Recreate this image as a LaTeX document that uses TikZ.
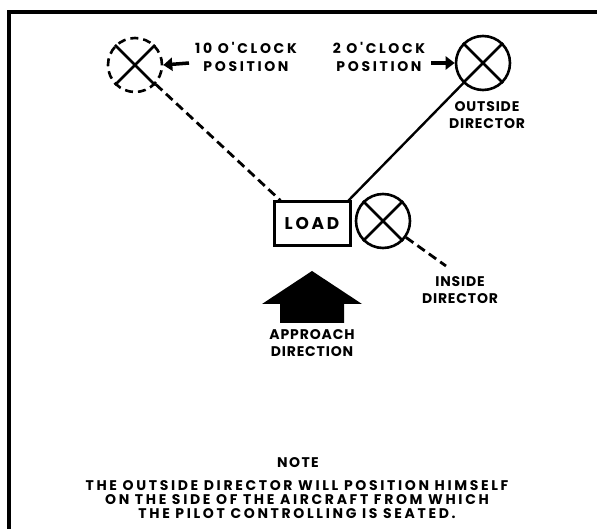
\documentclass[tikz,border=0pt]{standalone}
\usepackage{fontspec}
\setmainfont{Poppins}
\newfontfamily\lblfam{Poppins}[LetterSpace=6]
\newfontfamily\clkfam{Poppins}[LetterSpace=19]
\newfontfamily\notefam{Poppins}[LetterSpace=19]
\newfontfamily\loadfam{Poppins}[LetterSpace=16]
\newfontfamily\headfam{Poppins}[LetterSpace=10]
\usetikzlibrary{arrows.meta}
\tikzset{
  lbl/.style={font=\lblfam\bfseries\fontsize{14}{17.5}\selectfont, align=center, inner sep=0pt},
  clklbl/.style={font=\clkfam\bfseries\fontsize{14}{18}\selectfont, align=center, inner sep=0pt},
  notetxt/.style={font=\notefam\bfseries\fontsize{14}{14}\selectfont, align=center, inner sep=0pt},
  person/.style={circle, draw, line width=2.6pt, minimum size=54pt, inner sep=0pt},
  crossln/.style={line width=2.6pt},
  dashln/.style={line width=2.8pt, dash pattern=on 9pt off 5pt},
  solidln/.style={line width=2.4pt},
  pointer/.style={line width=3.5pt, -{Triangle[length=9pt,width=13pt]}},
}
\begin{document}
\begin{tikzpicture}[x=1pt,y=-1pt]
\useasboundingbox (0,0) rectangle (597,529);
% frame
\draw[line width=4pt] (9,540) -- (9,12) -- (610,12);
% directors
\node[person, dash pattern=on 8pt off 5pt] (c10) at (135,65) {};
\draw[crossln] (c10.north west) -- (c10.south east) (c10.north east) -- (c10.south west);
\node[person] (cout) at (483,63) {};
\draw[crossln] (cout.north west) -- (cout.south east) (cout.north east) -- (cout.south west);
\node[person] (cin) at (383,221) {};
\draw[crossln] (cin.north west) -- (cin.south east) (cin.north east) -- (cin.south west);
% load
\node[draw, line width=3pt, minimum width=76pt, minimum height=44pt, inner sep=0pt,
  font=\loadfam\bfseries\fontsize{17}{18}\selectfont] (load) at (312,224) {LOAD};
% connectors
\draw[dashln] (c10) -- ([xshift=8pt]load.north west);
\draw[solidln] (cout) -- ([xshift=-3pt]load.north east);
\coordinate (inend) at (446,266);
\draw[dashln] (cin) -- (inend);
% labels
\node[clklbl] (lbl10) at (246,57) {10 O'CLOCK\\POSITION};
\node[clklbl] (lbl2) at (379,57) {2 O'CLOCK\\POSITION};
\node[lbl] (lblout) at (487,115) {OUTSIDE\\DIRECTOR};
\node[lbl] (lblin) at (460,290) {INSIDE\\DIRECTOR};
\node[lbl] (appr) at (312,343) {APPROACH\\DIRECTION};
% pointers
\coordinate (p10) at (189,63);
\draw[pointer] (p10) -- (c10.east);
\coordinate (p2) at (431,63);
\draw[pointer] (p2) -- (cout.west);
% big approach arrow
\fill (312,271) -- (362,304) -- (344,304) -- (344,323) -- (280,323) -- (280,304) -- (262,304) -- cycle;
% note
\node[font=\headfam\bfseries\fontsize{14}{14}\selectfont, inner sep=0pt] (notehead) at (298,463) {NOTE};
\node[notetxt] (note) at (297,500) {THE OUTSIDE DIRECTOR WILL POSITION HIMSELF\\ON THE SIDE OF THE AIRCRAFT FROM WHICH\\THE PILOT CONTROLLING IS SEATED.};
\end{tikzpicture}
\end{document}
